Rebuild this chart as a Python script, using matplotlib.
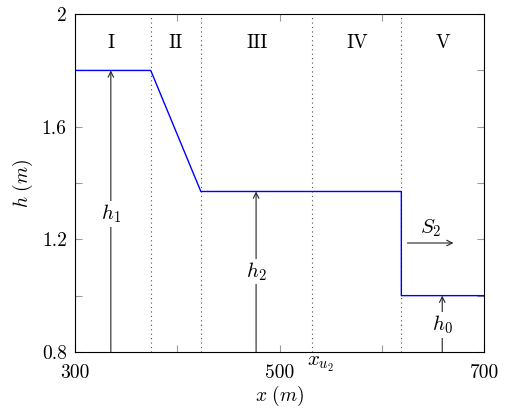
import numpy as np
import matplotlib
matplotlib.use('Agg')
import matplotlib.pyplot as plt

plt.rcParams['font.family'] = 'serif'
plt.rcParams['font.serif'] = ['cmr10']
plt.rcParams['mathtext.fontset'] = 'cm'
plt.rcParams['axes.formatter.use_mathtext'] = True

# water surface profile
profile_x = [300, 374, 423, 619, 619, 700]
profile_h = [1.8, 1.8, 1.37, 1.37, 1.0, 1.0]

# region borders and labels
borders = [374, 423, 532, 619]
region_names = ['I', 'II', 'III', 'IV', 'V']
region_x = [335, 398, 478, 576, 660]
region_y = 1.897

# depth arrows: x, top, label y, label
depth_x = [335, 477, 659]
depth_top = [1.8, 1.37, 1.0]
depth_label_y = [1.29, 1.085, 0.895]
depth_labels = [r'$h_1$', r'$h_2$', r'$h_0$']

x_ticks = [300, 400, 500, 600, 700]
x_ticklabels = ['300', '', '500', '', '700']
y_ticks = [0.8, 1.0, 1.2, 1.4, 1.6, 1.8, 2.0]
y_ticklabels = ['0.8', '', '1.2', '', '1.6', '', '2']

fig = plt.figure(figsize=(5.07, 4.16), dpi=100)
ax = fig.add_axes([0.148, 0.154, 0.807, 0.812])

for b in borders:
    ax.axvline(b, color='0.3', lw=0.8, ls=(0, (1, 3)))

ax.plot(profile_x, profile_h, color='blue', lw=1.0)

for name, xx in zip(region_names, region_x):
    ax.text(xx, region_y, name, ha='center', va='center', fontsize=14)

for xx, top, ly, lab in zip(depth_x, depth_top, depth_label_y, depth_labels):
    ax.annotate('', xy=(xx, top), xytext=(xx, 0.8),
                arrowprops=dict(arrowstyle='->', color='0.15', lw=0.8,
                                shrinkA=0, shrinkB=0))
    ax.text(xx, ly, lab, ha='center', va='center', fontsize=15,
            bbox=dict(facecolor='white', edgecolor='none', pad=1))

# flow arrow
ax.annotate('', xy=(670, 1.187), xytext=(625, 1.187),
            arrowprops=dict(arrowstyle='->', color='0.15', lw=0.8,
                            shrinkA=0, shrinkB=0))
ax.text(647.5, 1.24, r'$S_2$', ha='center', va='center', fontsize=15)

ax.text(540, 0.754, r'$x_{u_2}$', ha='center', va='center', fontsize=15)

ax.set_xlim(300, 700)
ax.set_ylim(0.8, 2.0)
ax.set_xticks(x_ticks)
ax.set_xticklabels(x_ticklabels)
ax.set_yticks(y_ticks)
ax.set_yticklabels(y_ticklabels)
ax.tick_params(direction='in', top=True, right=True, length=5,
               color='0.6', labelsize=14)
ax.tick_params(axis='x', pad=9)
ax.tick_params(axis='y', pad=6)
for s in ax.spines.values():
    s.set_linewidth(0.8)

ax.set_xlabel(r'$x\ (m)$', fontsize=14, labelpad=1)
ax.set_ylabel(r'$h\ (m)$', fontsize=14, labelpad=5)

fig.savefig('out.png', dpi=100)
